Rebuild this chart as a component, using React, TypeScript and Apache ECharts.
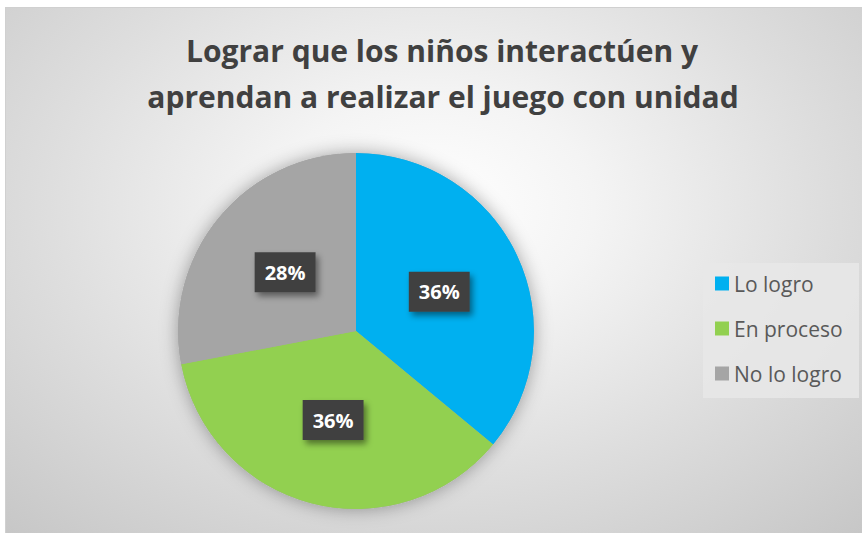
import React, { useEffect, useRef } from "react";
import * as echarts from "echarts";

const titleLines = ["Lograr que los niños interactúen y", "aprendan a realizar el juego con unidad"];
const categories = ["Lo logro", "En proceso", "No lo logro"];
const values = [36, 36, 28];
const colors = ["#00B0F0", "#92D050", "#A5A5A5"];

export default function App() {
  const ref = useRef<HTMLDivElement>(null);
  useEffect(() => {
    if (!ref.current) return;
    const chart = echarts.init(ref.current, null, { renderer: "svg" });
    const font = "'Open Sans'";
    chart.setOption({
      animation: false,
      graphic: [
        {
          type: "text",
          x: 436,
          y: 57,
          style: {
            text: titleLines[0],
            fill: "#404040",
            font: `bold 30px ${font}`,
            textAlign: "center",
            textVerticalAlign: "bottom",
          },
        },
        {
          type: "text",
          x: 437,
          y: 103,
          style: {
            text: titleLines[1],
            fill: "#404040",
            font: `bold 30px ${font}`,
            textAlign: "center",
            textVerticalAlign: "bottom",
          },
        },
        {
          type: "rect",
          shape: { x: 697, y: 255, width: 156, height: 135 },
          style: { fill: "rgba(232,232,232,0.85)" },
          z: -1,
          silent: true,
        },
      ],
      legend: {
        orient: "vertical",
        left: 704,
        top: 260,
        padding: 5,
        itemWidth: 14,
        itemHeight: 14,
        itemGap: 24,
        icon: "rect",
        data: categories,
        textStyle: { fontFamily: font, fontSize: 21, color: "#595959", lineHeight: 21 },
      },
      series: [
        {
          type: "pie",
          silent: true,
          center: [350, 323],
          radius: [0, 178],
          label: { show: false },
          labelLine: { show: false },
          itemStyle: { color: "#a5a5a5", shadowBlur: 18, shadowColor: "rgba(0,0,0,0.35)" },
          data: [{ value: 1, name: "_shadow" }],
          z: 1,
        },
        {
          type: "pie",
          center: [350, 323],
          radius: [0, 178],
          startAngle: 90,
          clockwise: true,
          z: 2,
          itemStyle: { borderWidth: 0 },
          label: {
            show: true,
            position: "inside",
            formatter: "{d}%",
            fontFamily: font,
            fontWeight: "bold",
            fontSize: 20,
            color: "#ffffff",
            backgroundColor: "#404040",
            padding: [10, 10, 10, 10],
            shadowBlur: 6,
            shadowOffsetX: 3,
            shadowOffsetY: 4,
            shadowColor: "rgba(0,0,0,0.45)",
          },
          labelLine: { show: false },
          data: categories.map((c, i) => ({ name: c, value: values[i], itemStyle: { color: colors[i] } })),
        },
      ],
    });
    return () => chart.dispose();
  }, []);
  return (
    <div style={{ position: "fixed", left: 0, top: 0, width: 862, height: 533, background: "#ffffff" }}>
      <div
        ref={ref}
        style={{
          position: "absolute",
          left: 5,
          top: 7,
          width: 857,
          height: 526,
          borderTop: "1px solid #d0d0d0",
          borderLeft: "1px solid #d0d0d0",
          boxSizing: "border-box",
          background:
            "radial-gradient(ellipse 75% 85% at 50% 38%, #ffffff 0%, #f4f4f4 25%, #dedede 60%, #c6c6c6 100%)",
        }}
      />
    </div>
  );
}
